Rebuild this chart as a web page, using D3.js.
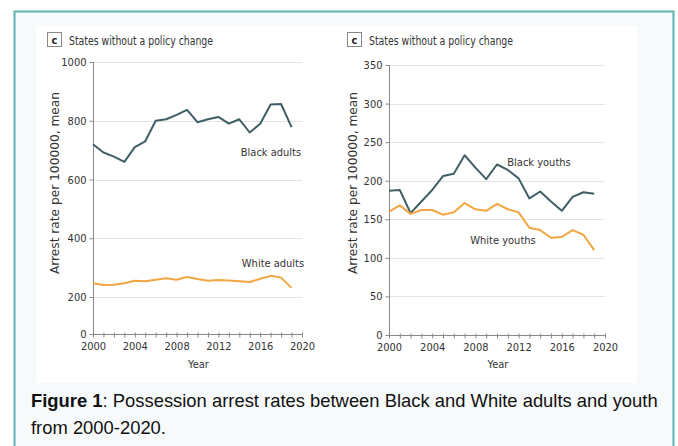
<!DOCTYPE html>
<html><head><meta charset="utf-8">
<script src="https://cdn.jsdelivr.net/npm/d3@7"></script>
<style>
body{margin:0;background:#fff;}
svg{display:block;}
</style></head>
<body>
<svg id="c" width="678" height="446"></svg>
<script>
const years = d3.range(2000, 2020);
const blackAdults = [720,692,678,660,710,730,800,805,820,837,795,805,813,790,805,760,790,855,857,778];
const whiteAdults = [247,241,242,247,255,254,259,264,259,268,261,255,258,256,254,251,262,272,266,231];
const blackYouths = [187,188,158,173,188,206,209,233,217,202,221,214,203,177,186,173,161,179,185,183];
const whiteYouths = [160,168,157,162,162,156,159,171,163,161,170,163,159,139,136,126,127,136,130,110];
const adultTicks = [0,200,400,600,800,1000];
const youthTicks = [0,50,100,150,200,250,300,350];
const xTicks = [2000,2004,2008,2012,2016,2020];
const panelTitle = "States without a policy change";
const yTitle = "Arrest rate per 100000, mean";

const BLACK = "#3f5f66", WHITE = "#f2a540";
const FONT = "'Liberation Sans Narrow','DejaVu Sans Condensed',sans-serif";
const svg = d3.select("#c");

svg.append("rect").attr("x",14.5).attr("y",11.5).attr("width",659).attr("height",450)
  .attr("fill","#f7fafa").attr("stroke","#5fb0b0").attr("stroke-width",2);
svg.append("rect").attr("x",36).attr("y",26).attr("width",601).attr("height",357).attr("fill","#fff");

function panel(opt){
  const g = svg.append("g");
  const x = d3.scaleLinear().domain([2000,2020]).range(opt.xr);
  const y = d3.scaleLinear().domain(opt.yd).range(opt.yr);
  // header
  g.append("rect").attr("x",opt.hx+0.5).attr("y",32.5).attr("width",14).attr("height",14)
    .attr("fill","#fff").attr("stroke","#888").attr("stroke-width",1);
  g.append("text").attr("x",opt.hx+7.5).attr("y",44).attr("text-anchor","middle")
    .attr("font-family",FONT).attr("font-weight","bold").attr("font-size",11).attr("fill","#222").text("c");
  g.append("text").attr("x",opt.hx+22).attr("y",45).attr("font-family",FONT)
    .attr("font-size",12.5).attr("fill","#333").attr("textLength",144).attr("lengthAdjust","spacingAndGlyphs")
    .text(panelTitle);
  // grid
  g.selectAll("line.grid").data(opt.ticks.filter(d=>d>0)).join("line")
    .attr("x1",opt.xr[0]).attr("x2",opt.xr[1]).attr("y1",d=>Math.round(y(d))+0.5).attr("y2",d=>Math.round(y(d))+0.5)
    .attr("stroke","#e4e4e4").attr("stroke-width",1);
  // y axis
  const ya = g.append("g").attr("transform",`translate(${opt.xr[0]+0.5},0)`)
    .call(d3.axisLeft(y).tickValues(opt.ticks).tickSize(4).tickPadding(3).tickFormat(d3.format("d")));
  ya.select(".domain").attr("stroke","#888").attr("d",`M0,${y(opt.ticks[opt.ticks.length-1])}V${y(0)}`);
  ya.selectAll(".tick line").attr("stroke","#888");
  ya.selectAll("text").attr("font-family",FONT).attr("font-size",11).attr("fill","#333");
  // x axis
  const xa = g.append("g").attr("transform",`translate(0,${Math.round(y(0))+0.5})`)
    .call(d3.axisBottom(x).tickValues(d3.range(2000,2021)).tickSize(3).tickPadding(5)
      .tickFormat(d=> xTicks.includes(d) ? d : ""));
  xa.select(".domain").attr("stroke","#888").attr("d",`M${opt.xr[0]},0H${opt.xr[1]}`);
  xa.selectAll(".tick line").attr("y1",-2).attr("stroke","#888");
  xa.selectAll("text").attr("font-family",FONT).attr("font-size",11).attr("fill","#333");
  // axis titles
  g.append("text").attr("x",(opt.xr[0]+opt.xr[1])/2+1).attr("y",368).attr("text-anchor","middle")
    .attr("font-family",FONT).attr("font-size",11).attr("fill","#333").text("Year");
  g.append("text").attr("transform",`translate(${opt.tx},183) rotate(-90)`).attr("text-anchor","middle")
    .attr("font-family",FONT).attr("font-size",12).attr("fill","#333")
    .attr("textLength",182).attr("lengthAdjust","spacingAndGlyphs").text(yTitle);
  // lines
  const line = d3.line().x((d,i)=>x(years[i])).y(d=>y(d));
  opt.series.forEach(s=>{
    g.append("path").datum(s.values).attr("d",line).attr("fill","none")
      .attr("stroke",s.color).attr("stroke-width",2).attr("stroke-linejoin","round");
    g.append("text").attr("x",s.lx).attr("y",s.ly).attr("text-anchor","middle")
      .attr("font-family",FONT).attr("font-size",11).attr("fill","#333").text(s.label);
  });
}

panel({xr:[93,302], yd:[0,200,1000], yr:[334,297,62], ticks:adultTicks, hx:47, tx:59,
  series:[{values:blackAdults,color:BLACK,label:"Black adults",lx:271,ly:156},
          {values:whiteAdults,color:WHITE,label:"White adults",lx:273,ly:267}]});
panel({xr:[389,605], yd:[0,350], yr:[335,65], ticks:youthTicks, hx:347, tx:357,
  series:[{values:blackYouths,color:BLACK,label:"Black youths",lx:539,ly:166},
          {values:whiteYouths,color:WHITE,label:"White youths",lx:503,ly:244}]});

const CAPFONT = "'Liberation Sans',Arial,sans-serif";
const cap = svg.append("text").attr("x",31).attr("y",407).attr("font-family",CAPFONT)
  .attr("font-size",18.4).attr("fill","#111");
cap.append("tspan").attr("font-weight","bold").text("Figure 1");
cap.append("tspan").text(": Possession arrest rates between Black and White adults and youth");
svg.append("text").attr("x",31).attr("y",434).attr("font-family",CAPFONT)
  .attr("font-size",18.4).attr("fill","#111").text("from 2000-2020.");
</script>
</body></html>
